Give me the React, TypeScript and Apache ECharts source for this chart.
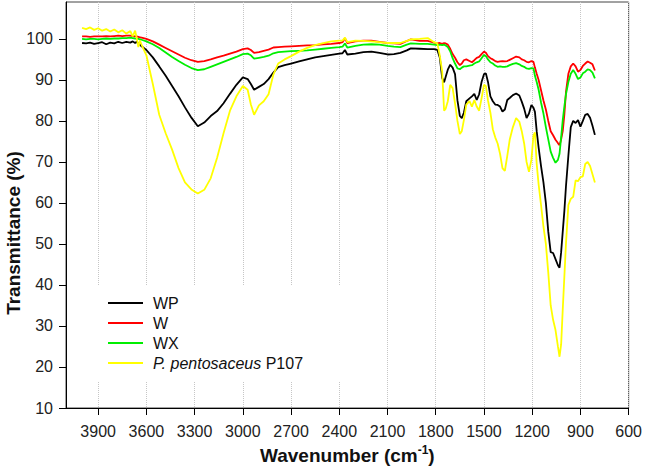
import React, { useEffect, useRef } from "react";
import * as echarts from "echarts";

// Wavenumbers (cm-1), shared by all spectra
const wavenumbers = [
  4000, 3975, 3950, 3925, 3900, 3875, 3850, 3825, 3800, 3775, 3750, 3725, 3700, 3685, 3670, 3660, 3650, 3640, 3630,
  3600, 3560, 3520, 3480, 3440, 3400, 3360, 3320, 3280, 3240,
  3200, 3160, 3120, 3080, 3040, 3000, 2970, 2950, 2930, 2900,
  2870, 2840, 2810, 2780, 2740, 2700, 2650, 2600, 2550, 2500,
  2450, 2400, 2380, 2365, 2350, 2300, 2250, 2200, 2150, 2100,
  2060, 2020, 1980, 1955, 1900, 1850, 1810, 1790, 1775, 1760,
  1748, 1738, 1725, 1710, 1695, 1680, 1665, 1650, 1638, 1625,
  1610, 1590, 1575, 1560, 1545, 1530, 1515, 1500, 1488, 1475,
  1460, 1445, 1430, 1415, 1400, 1385, 1370, 1355, 1340, 1320,
  1300, 1280, 1265, 1250, 1235, 1220, 1205, 1192, 1183, 1172,
  1160, 1145, 1130, 1115, 1100, 1085, 1070, 1055, 1040, 1030,
  1020, 1010, 1000, 990, 975, 960, 945, 930, 915, 900,
  885, 870, 855, 840, 825, 810,
];

const wpValues = [
  99.0, 98.9, 99.1, 98.8, 99.0, 99.2, 98.7, 99.1, 98.9, 99.3, 99.0, 99.3, 99.1, 99.4, 99.0, 99.3, 98.9, 98.6, 98.2,
  97.3, 95.5, 93.3, 91.0, 88.5, 86.0, 83.3, 80.8, 78.7, 79.6,
  81.2, 82.4, 84.3, 86.6, 88.8, 90.6, 90.2, 89.0, 87.6, 88.3,
  89.0, 90.2, 91.8, 93.1, 93.6, 94.0, 94.5, 95.0, 95.5, 95.8,
  96.1, 96.4, 96.5, 97.3, 96.2, 96.4, 96.8, 96.9, 96.6, 96.2,
  96.3, 96.6, 97.2, 97.7, 97.6, 97.5, 97.5, 97.3, 95.5, 90.5,
  89.4, 90.8, 92.5, 93.7, 93.0, 91.4, 85.0, 81.2, 80.7, 82.0,
  84.8, 85.5, 86.0, 86.6, 85.1, 86.5, 89.5, 91.4, 91.6, 89.5,
  86.0, 84.8, 84.0, 83.9, 83.5, 82.3, 82.8, 85.1, 85.6, 86.3,
  86.7, 86.2, 84.7, 83.0, 80.7, 81.8, 83.9, 83.2, 82.2, 77.5,
  73.5, 69.0, 65.0, 60.0, 53.0, 48.0, 47.8, 46.3, 44.8, 44.2,
  48.0, 53.0, 58.0, 64.0, 71.5, 78.5, 80.0, 79.5, 80.2, 78.6,
  80.0, 81.5, 81.7, 80.8, 78.8, 76.6,
];

const wValues = [
  100.6, 100.6, 100.5, 100.6, 100.6, 100.6, 100.7, 100.6, 100.7, 100.8, 100.7, 100.8, 100.8, 100.7, 100.6, 100.6, 100.5, 100.4, 100.3,
  100.0, 99.4, 98.6, 97.8, 97.0, 96.2, 95.4, 94.8, 94.4, 94.6,
  95.0, 95.5, 95.9, 96.4, 96.9, 97.5, 97.7, 97.3, 96.6, 96.8,
  97.1, 97.4, 97.9, 98.0, 98.1, 98.2, 98.3, 98.4, 98.5, 98.7,
  98.8, 99.0, 99.2, 100.2, 99.0, 99.4, 99.6, 99.6, 99.3, 99.0,
  98.9, 98.8, 99.5, 99.9, 99.5, 99.5, 99.1, 98.9, 99.0, 98.8,
  99.0, 98.9, 98.6, 97.6, 96.3, 95.4, 94.3, 93.6, 94.0, 94.8,
  95.0, 94.6, 94.3, 94.8, 95.4, 95.6, 96.3, 96.9, 96.6, 95.8,
  95.3, 95.0, 94.6, 94.4, 94.5, 94.6, 94.5, 94.6, 94.9, 95.3,
  95.7, 95.5, 95.0, 94.8, 94.4, 94.3, 94.6, 94.4, 93.0, 91.5,
  90.0, 87.5, 85.0, 82.8, 80.0, 77.5, 76.5, 75.4, 74.6, 74.1,
  75.5, 77.5, 81.5, 87.0, 91.5, 93.3, 94.0, 93.3, 92.0, 92.4,
  93.4, 94.0, 94.5, 94.2, 93.8, 92.3,
];

const wxValues = [
  100.0, 99.9, 100.0, 100.0, 99.9, 100.0, 100.1, 100.0, 100.1, 100.1, 100.2, 100.2, 100.3, 100.2, 100.1, 100.0, 100.0, 99.9, 99.8,
  99.4, 98.7, 97.8, 96.7, 95.6, 94.6, 93.7, 92.9, 92.4, 92.6,
  93.2, 93.8, 94.4, 95.0, 95.6, 96.3, 96.4, 96.0, 95.2, 95.4,
  95.6, 95.9, 96.5, 96.8, 96.9, 97.0, 97.1, 97.2, 97.4, 97.6,
  97.8, 98.0, 98.1, 98.9, 97.9, 98.3, 98.6, 98.7, 98.6, 98.3,
  98.1, 98.0, 98.6, 98.9, 98.8, 98.8, 98.6, 98.5, 98.6, 98.5,
  98.6, 98.4, 98.0, 97.0, 95.3, 94.0, 92.8, 92.6, 93.0, 93.3,
  93.3, 93.5, 93.6, 94.0, 94.3, 94.5, 95.3, 96.1, 95.8, 95.0,
  94.3, 94.0, 93.5, 93.2, 93.3, 93.2, 93.2, 93.3, 93.6, 93.9,
  94.1, 93.8, 93.4, 93.2, 92.8, 92.7, 92.9, 92.8, 91.0, 89.5,
  87.6, 84.5, 81.8, 78.5, 75.5, 72.5, 71.0, 69.8, 70.5, 72.0,
  76.0, 80.2, 83.5, 86.5, 89.5, 91.5, 92.4, 91.5, 90.2, 90.6,
  91.6, 92.0, 92.6, 92.4, 91.8, 90.4,
];

const p107Values = [
  102.7, 102.4, 102.8, 102.2, 102.6, 102.0, 102.4, 101.8, 102.3, 101.6, 102.1, 101.3, 101.9, 100.6, 102.0, 100.2, 98.0, 99.6, 98.6,
  96.0, 89.0, 81.5, 77.0, 73.0, 68.5, 65.0, 63.3, 62.3, 63.2,
  66.0, 71.0, 77.0, 82.5, 86.0, 88.5, 87.6, 84.0, 81.5, 83.8,
  84.8, 86.5, 91.3, 94.0, 95.0, 95.8, 96.9, 97.8, 98.5, 99.0,
  99.4, 99.6, 99.6, 100.3, 99.2, 99.6, 99.5, 99.4, 99.2, 99.0,
  99.0, 99.0, 99.5, 99.9, 100.0, 100.2, 99.2, 98.9, 96.0, 92.0,
  82.5, 83.0, 84.8, 88.8, 88.0, 84.3, 80.0, 76.8, 77.5, 80.2,
  84.0, 84.8, 83.5, 85.1, 83.5, 82.5, 85.5, 88.8, 88.5, 85.0,
  82.0, 78.0, 76.0, 74.5, 72.0, 68.5, 67.8, 71.5, 75.4, 78.5,
  80.7, 79.8, 77.5, 74.5, 70.0, 67.6, 70.5, 76.5, 77.2, 69.5,
  64.5, 59.5, 54.2, 50.0, 43.0, 35.0, 31.5, 29.0, 25.0, 22.5,
  25.5, 34.0, 42.0, 50.0, 59.5, 61.0, 61.5, 65.5, 65.3, 66.3,
  66.5, 69.5, 70.0, 69.0, 67.0, 65.0,
];

const xTicks = [3900, 3600, 3300, 3000, 2700, 2400, 2100, 1800, 1500, 1200, 900, 600];
const yTicks = [10, 20, 30, 40, 50, 60, 70, 80, 90, 100];

const seriesNames = ["WP", "W", "WX", "P. pentosaceus P107"];
const seriesColors = ["#000000", "#ff0000", "#00ee00", "#ffff00"];
const seriesValues = [wpValues, wValues, wxValues, p107Values];

const FONT = "'Liberation Sans', Arial, Helvetica, sans-serif";

export default function App() {
  const ref = useRef<HTMLDivElement>(null);

  useEffect(() => {
    if (!ref.current) return;
    const chart = echarts.init(ref.current, null, { renderer: "svg" });
    const option: any = {
      animation: false,
      backgroundColor: "#ffffff",
      textStyle: { fontFamily: FONT },
      grid: {
        left: 66,
        right: 12,
        top: 2,
        bottom: 62,
        show: true,
        borderColor: "#444",
        borderWidth: 1,
        backgroundColor: "transparent",
      },
      legend: {
        orient: "vertical",
        left: 67,
        top: 285,
        padding: [10, 45, 11, 41],
        backgroundColor: "#ffffff",
        itemWidth: 35,
        itemHeight: 2,
        itemGap: 4,
        icon: "rect",
        data: seriesNames,
        textStyle: {
          fontFamily: FONT,
          fontSize: 16,
          color: "#111",
          padding: [0, 0, 0, 5],
          rich: {
            it: { fontFamily: FONT, fontSize: 16, fontStyle: "italic", color: "#111" },
          },
        },
        formatter: (name: string) =>
          name === "P. pentosaceus P107" ? "{it|P. pentosaceus} P107" : name,
      },
      graphic: [
        {
          type: "text",
          x: 13,
          y: 233,
          rotation: Math.PI / 2,
          style: {
            text: "Transmittance (%)",
            fontFamily: FONT,
            fontSize: 19,
            fontWeight: "bold",
            fill: "#111",
            textAlign: "center",
            textVerticalAlign: "middle",
          },
        },
      ],
      xAxis: {
        type: "value",
        inverse: true,
        min: 600,
        max: 4100,
        interval: 300,
        name: "{a|Wavenumber (cm}{s|-1}{a|)}",
        nameLocation: "middle",
        nameGap: 36,
        nameTextStyle: {
          rich: {
            a: { fontFamily: FONT, fontSize: 19, fontWeight: "bold", color: "#111", lineHeight: 22 },
            s: { fontFamily: FONT, fontSize: 12, fontWeight: "bold", color: "#111", verticalAlign: "top", lineHeight: 12 },
          },
        },
        axisLine: { show: true, onZero: false, lineStyle: { color: "#000", width: 1 } },
        axisTick: { show: true, inside: false, length: 7, customValues: xTicks, lineStyle: { color: "#000" } },
        axisLabel: {
          customValues: xTicks,
          fontFamily: FONT,
          fontSize: 16,
          color: "#222",
          margin: 15,
          formatter: (v: number) => String(v),
        },
        splitLine: {
          show: true,
          lineStyle: { color: "#c6c6c6", width: 1, type: "dotted" },
        },
      },
      yAxis: {
        type: "value",
        min: 10,
        max: 109,
        interval: 10,
        axisLine: { show: true, onZero: false, lineStyle: { color: "#000", width: 1 } },
        axisTick: { show: true, inside: false, length: 7, customValues: yTicks, lineStyle: { color: "#000" } },
        axisLabel: {
          customValues: yTicks,
          fontFamily: FONT,
          fontSize: 16,
          color: "#222",
          margin: 13,
          formatter: (v: number) => String(v),
        },
        splitLine: { show: false },
      },
      series: seriesNames.map((name, k) => ({
        name,
        type: "line",
        symbol: "none",
        showSymbol: false,
        color: seriesColors[k],
        lineStyle: { color: seriesColors[k], width: 1.8 },
        data: wavenumbers.map((w, i) => [w, seriesValues[k][i]]),
        z: 2 + k,
      })),
    };
    chart.setOption(option);
    return () => chart.dispose();
  }, []);

  return (
    <div
      ref={ref}
      style={{ position: "fixed", left: 0, top: 0, width: 645, height: 470, background: "#fff" }}
    />
  );
}
